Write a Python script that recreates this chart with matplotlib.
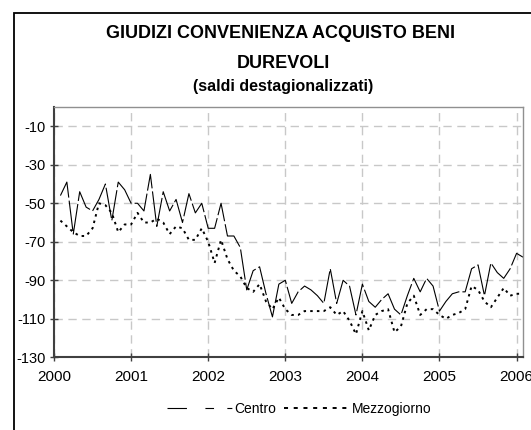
import matplotlib
matplotlib.use('Agg')
import matplotlib.pyplot as plt
import numpy as np
from matplotlib.lines import Line2D
from matplotlib.patches import Rectangle

plt.rcParams['font.family'] = ['Liberation Sans', 'DejaVu Sans']
plt.rcParams['lines.scale_dashes'] = False
plt.rcParams['axes.unicode_minus'] = False

# Monthly data, Jan 2000 .. Feb 2006
start_year = 2000
n_months = 74

centro = [np.nan, -46, -39, -66, -44, -52, -54, -48, -40, -59, -39, -43,
          -50, -50, -54, -35, -62, -44, -54, -48, -60, -45, -55, -50,
          -63, -63, -50, -67, -67, -73, -95, -85, -83, -97, -109, -92,
          -90, -102, -96, -93, -95, -98, -102, -84, -102, -90, -93, -108,
          -92, -101, -104, -100, -97, -105, -108, -98, -89, -96, -89, -93,
          -106, -101, -97, -96, -96, -84, -82, -98, -81, -86, -89, -84,
          -76, -78]

mezzogiorno = [np.nan, -59, -62, -65, -67, -67, -63, -50, -51, -55, -65, -61,
               -61, -55, -60, -60, -58, -60, -66, -62, -63, -69, -69, -63,
               -70, -81, -69, -79, -85, -88, -94, -96, -92, -101, -105, -99,
               -105, -108, -108, -106, -106, -106, -106, -104, -108, -106, -111, -118,
               -106, -116, -108, -106, -105, -117, -114, -102, -98, -108, -105, -105,
               -108, -110, -108, -107, -105, -93, -95, -101, -104, -99, -94, -98,
               -97, -97]

year_ticks = [2000, 2001, 2002, 2003, 2004, 2005, 2006]
y_ticks = [-130, -110, -90, -70, -50, -30, -10]
series_names = ['Centro', 'Mezzogiorno']
title_lines = ['GIUDIZI CONVENIENZA ACQUISTO BENI', 'DUREVOLI', '(saldi destagionalizzati)']

x = start_year + np.arange(n_months) / 12.0

W, H = 531, 430
fig = plt.figure(figsize=(W / 100, H / 100), dpi=100)
fig.patch.set_facecolor('white')

left, right, top, bottom = 54, 523, 107, 357.3
ax = fig.add_axes([left / W, 1 - bottom / H, (right - left) / W, (bottom - top) / H])

ax.plot(x, centro, color='black', lw=0.8, dashes=(22, 2.2), solid_capstyle='butt')
ax.plot(x, mezzogiorno, color='black', lw=1.4, dashes=(1.8, 3.0), dash_capstyle='butt')

ax.set_xlim(2000, 2006 + 1 / 12)
ax.set_ylim(-130, 0)
ax.set_xticks(year_ticks)
ax.set_xticklabels([str(t) for t in year_ticks])
ax.set_yticks(y_ticks)
ax.set_yticklabels([str(t) for t in y_ticks])

ax.set_axisbelow(True)
ax.grid(True, color='#c8c8c8', lw=1.0, linestyle=(0, (6, 4)))

for s in ['left', 'bottom']:
    ax.spines[s].set_color('#404040')
    ax.spines[s].set_linewidth(1.5)
for s in ['top', 'right']:
    ax.spines[s].set_color('#909090')
    ax.spines[s].set_linewidth(1.0)

ax.tick_params(axis='both', direction='inout', length=6, width=1, color='#404040')
ax.tick_params(axis='y', labelsize=10.5, pad=3)
ax.tick_params(axis='x', labelsize=11, pad=6)

# Title
fig.text(281 / W, 1 - 34 / H, title_lines[0], ha='center', va='center',
         fontsize=13, fontweight='bold')
fig.text(283 / W, 1 - 63 / H, title_lines[1], ha='center', va='center',
         fontsize=13, fontweight='bold')
fig.text(283 / W, 1 - 87 / H, title_lines[2], ha='center', va='center',
         fontsize=11.5, fontweight='bold')

# Legend
h1 = Line2D([], [], color='black', lw=0.8, dashes=(14, 13.3, 6.2, 9.6, 3.6, 60))
h2 = Line2D([], [], color='black', lw=1.4, dashes=(2.9, 4.1))
fig.legend([h1, h2], series_names, loc='center', bbox_to_anchor=(299 / W, 1 - 409 / H),
           ncol=2, frameon=False, fontsize=10, handlelength=4.7,
           handletextpad=0.15, columnspacing=0.6)

# Outer border (extends beyond the canvas on right and bottom)
fig.add_artist(Rectangle((14 / W, -0.1), 2.0, (1 - 13 / H) + 0.1,
                         transform=fig.transFigure, fill=False, ec='black', lw=1.3))

fig.savefig('out.png', dpi=100)
